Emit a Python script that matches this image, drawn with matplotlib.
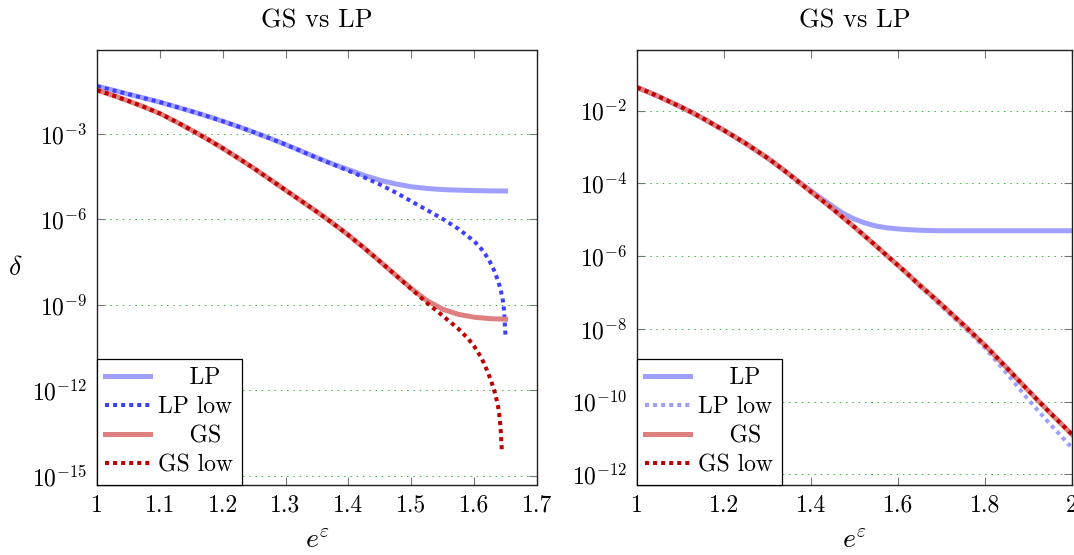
import math
import matplotlib
matplotlib.use("Agg")
import matplotlib.pyplot as plt
from matplotlib.ticker import FixedLocator, NullLocator, FuncFormatter

plt.rcParams["font.family"] = "cmr10"
plt.rcParams["mathtext.fontset"] = "cm"
plt.rcParams["axes.formatter.use_mathtext"] = True

# ---- left panel data (log10 of delta) ----
left_x = [1.0, 1.025, 1.05, 1.075, 1.1, 1.125, 1.15, 1.175, 1.2, 1.225, 1.25, 1.275, 1.3, 1.325,
          1.35, 1.375, 1.4, 1.425, 1.45, 1.475, 1.5, 1.525, 1.55, 1.575, 1.6, 1.625, 1.65]
left_lp = [-1.32, -1.46, -1.6, -1.74, -1.88, -2.04, -2.2, -2.37, -2.55, -2.74, -2.94, -3.15, -3.37, -3.6,
           -3.83, -4.05, -4.25, -4.45, -4.62, -4.75, -4.85, -4.91, -4.95, -4.97, -4.985, -4.995, -5.0]

left_lp_low_x = [1.0, 1.025, 1.05, 1.075, 1.1, 1.125, 1.15, 1.175, 1.2, 1.225, 1.25, 1.275, 1.3, 1.325,
                 1.35, 1.375, 1.4, 1.425, 1.45, 1.475, 1.5, 1.525, 1.55, 1.575, 1.6, 1.615, 1.625,
                 1.632, 1.638, 1.642, 1.645, 1.647, 1.648, 1.649, 1.65]
left_lp_low = [-1.32, -1.46, -1.6, -1.74, -1.88, -2.04, -2.2, -2.37, -2.55, -2.74, -2.94, -3.15, -3.37, -3.6,
               -3.84, -4.06, -4.29, -4.52, -4.77, -5.05, -5.36, -5.67, -5.98, -6.33, -6.76, -7.12, -7.48,
               -7.8, -8.15, -8.45, -8.75, -9.05, -9.35, -9.75, -10.13]

left_gs = [-1.46, -1.64, -1.84, -2.05, -2.28, -2.56, -2.86, -3.17, -3.5, -3.85, -4.21, -4.59, -4.97, -5.35,
           -5.73, -6.13, -6.55, -7.0, -7.47, -7.95, -8.42, -8.85, -9.15, -9.33, -9.43, -9.48, -9.5]

left_gs_low_x = [1.0, 1.025, 1.05, 1.075, 1.1, 1.125, 1.15, 1.175, 1.2, 1.225, 1.25, 1.275, 1.3, 1.325,
                 1.35, 1.375, 1.4, 1.425, 1.45, 1.475, 1.5, 1.525, 1.55, 1.575, 1.59, 1.6, 1.61, 1.615,
                 1.62, 1.625, 1.63, 1.634, 1.638, 1.64, 1.642, 1.643, 1.644]
left_gs_low = [-1.46, -1.64, -1.84, -2.05, -2.28, -2.56, -2.86, -3.17, -3.5, -3.85, -4.21, -4.59, -4.97, -5.35,
               -5.73, -6.13, -6.55, -7.0, -7.47, -7.95, -8.44, -8.93, -9.38, -9.84, -10.17, -10.45, -10.8, -11.02,
               -11.27, -11.55, -11.86, -12.16, -12.55, -12.85, -13.3, -13.7, -14.1]

# ---- right panel data (log10 of delta) ----
right_x = [1.0, 1.025, 1.05, 1.075, 1.1, 1.125, 1.15, 1.175, 1.2, 1.225, 1.25, 1.275, 1.3, 1.325,
           1.35, 1.375, 1.4, 1.425, 1.45, 1.475, 1.5, 1.525, 1.55, 1.575, 1.6, 1.625, 1.65, 1.675,
           1.7, 1.75, 1.8, 1.85, 1.9, 1.95, 2.0]
right_lp = [-1.36, -1.48, -1.61, -1.75, -1.89, -2.04, -2.2, -2.37, -2.54, -2.72, -2.9, -3.1, -3.3, -3.52,
            -3.75, -3.98, -4.2, -4.42, -4.63, -4.83, -4.98, -5.09, -5.17, -5.22, -5.25, -5.27, -5.285, -5.295,
            -5.3, -5.3, -5.3, -5.3, -5.3, -5.3, -5.3]
right_lp_low = [-1.36, -1.48, -1.61, -1.75, -1.89, -2.04, -2.2, -2.37, -2.54, -2.72, -2.9, -3.1, -3.3, -3.52,
                -3.75, -3.99, -4.23, -4.46, -4.7, -4.95, -5.2, -5.46, -5.72, -5.99, -6.26, -6.54, -6.83, -7.1,
                -7.38, -7.94, -8.52, -9.22, -9.95, -10.62, -11.27]
right_gs = [-1.36, -1.48, -1.61, -1.75, -1.89, -2.04, -2.2, -2.37, -2.54, -2.72, -2.9, -3.1, -3.3, -3.52,
            -3.75, -3.99, -4.23, -4.46, -4.7, -4.95, -5.2, -5.46, -5.72, -5.99, -6.25, -6.52, -6.8, -7.06,
            -7.33, -7.88, -8.45, -9.07, -9.7, -10.31, -10.9]
right_gs_low = right_gs

labels = ["    LP", "LP low", "    GS", "GS low"]
left_xticks = [1.0, 1.1, 1.2, 1.3, 1.4, 1.5, 1.6, 1.7]
left_xticklabels = ["1", "1.1", "1.2", "1.3", "1.4", "1.5", "1.6", "1.7"]
right_xticks = [1.0, 1.2, 1.4, 1.6, 1.8, 2.0]
right_xticklabels = ["1", "1.2", "1.4", "1.6", "1.8", "2"]
left_yticks = [-3, -6, -9, -12, -15]
right_yticks = [-2, -4, -6, -8, -10, -12]


def pw(vals):
    return [10.0 ** v for v in vals]


fig = plt.figure(figsize=(10.74, 5.55), dpi=100)
ax1 = fig.add_axes([97 / 1074, 70 / 555, 440 / 1074, 435 / 555])
ax2 = fig.add_axes([637 / 1074, 70 / 555, 435 / 1074, 435 / 555])

solid_lw = 3.6
dot_lw = 2.9
dots = (0, (1, 1))

ax1.plot(left_x, pw(left_lp), color="#9f9fff", lw=solid_lw, label=labels[0])
ax1.plot(left_lp_low_x, pw(left_lp_low), color="#3f3fff", lw=dot_lw, ls=dots, label=labels[1])
ax1.plot(left_x, pw(left_gs), color="#df8080", lw=solid_lw, label=labels[2])
ax1.plot(left_gs_low_x, pw(left_gs_low), color="#bf0000", lw=dot_lw, ls=dots, label=labels[3])

ax2.plot(right_x, pw(right_lp), color="#9f9fff", lw=solid_lw, label=labels[0])
ax2.plot(right_x, pw(right_lp_low), color="#9f9fff", lw=dot_lw, ls=dots, label=labels[1])
ax2.plot(right_x, pw(right_gs), color="#df8080", lw=solid_lw, label=labels[2])
ax2.plot(right_x, pw(right_gs_low), color="#bf0000", lw=dot_lw, ls=dots, label=labels[3])

for ax, xt, xtl, yt, ylim, xlim in [
    (ax1, left_xticks, left_xticklabels, left_yticks, (-15.32, -0.05), (1.0, 1.7)),
    (ax2, right_xticks, right_xticklabels, right_yticks, (-12.29, -0.33), (1.0, 2.0)),
]:
    ax.set_yscale("log")
    ax.set_xlim(*xlim)
    ax.set_ylim(10.0 ** ylim[0], 10.0 ** ylim[1])
    ax.xaxis.set_major_locator(FixedLocator(xt))
    ax.set_xticklabels(xtl)
    ax.yaxis.set_major_locator(FixedLocator([10.0 ** v for v in yt]))
    ax.yaxis.set_minor_locator(NullLocator())
    ax.xaxis.set_minor_locator(NullLocator())
    ax.yaxis.set_major_formatter(FuncFormatter(lambda v, p: r"$10^{%d}$" % round(math.log10(v))))
    ax.tick_params(direction="in", top=True, right=True, length=6, width=0.8,
                   color="#777777", labelsize=17, pad=7)
    ax.grid(True, axis="y", color="#22aa22", lw=0.7, ls=(0, (1.5, 5)), alpha=0.9)
    for s in ax.spines.values():
        s.set_linewidth(1.0)
        s.set_color("#222222")
    ax.set_title("GS vs LP", fontsize=19, pad=16.5)
    ax.set_xlabel(r"$e^{\varepsilon}$", fontsize=20)
    ax.xaxis.set_label_coords(0.5, -0.1)
    leg = ax.legend(loc="lower left", borderaxespad=0, fancybox=False, framealpha=1,
                    edgecolor="black", fontsize=17, handlelength=1.9, labelspacing=0.3,
                    handletextpad=0.35, borderpad=0.35)
    leg.get_frame().set_linewidth(0.9)

ax1.set_ylabel(r"$\delta$", fontsize=20, rotation=0, va="center", ha="center")
ax1.yaxis.set_label_coords(-0.186, 0.5)

fig.savefig("out.png", dpi=100)
